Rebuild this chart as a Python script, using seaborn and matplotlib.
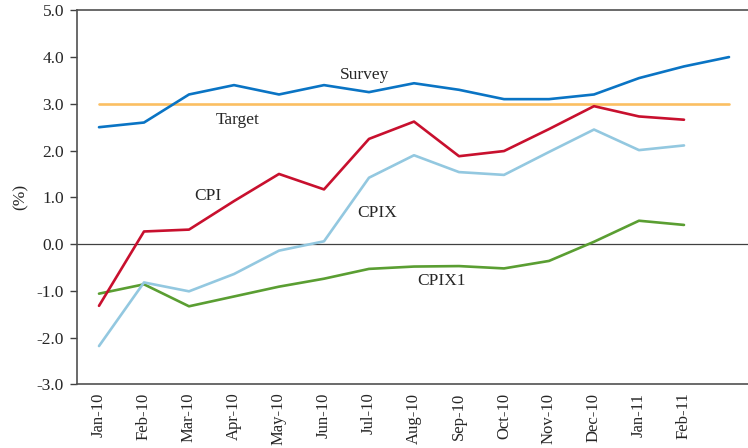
import pandas as pd
import matplotlib.pyplot as plt
import seaborn as sns

# 月份（最后一个 Mar-11 不显示标签）
months = ['Jan-10', 'Feb-10', 'Mar-10', 'Apr-10', 'May-10', 'Jun-10', 'Jul-10',
          'Aug-10', 'Sep-10', 'Oct-10', 'Nov-10', 'Dec-10', 'Jan-11', 'Feb-11', 'Mar-11']
tick_labels = months[:-1] + ['']

survey = [2.50, 2.60, 3.20, 3.40, 3.20, 3.40, 3.25, 3.44, 3.30, 3.10, 3.10, 3.20, 3.55, 3.80, 4.00]
target = [3.0] * 15
cpi = [-1.32, 0.27, 0.31, 0.92, 1.50, 1.17, 2.25, 2.62, 1.88, 1.99, 2.46, 2.95, 2.73, 2.66]
cpix = [-2.18, -0.82, -1.01, -0.64, -0.14, 0.06, 1.42, 1.90, 1.54, 1.48, 1.97, 2.45, 2.01, 2.11]
cpix1 = [-1.06, -0.86, -1.33, -1.12, -0.91, -0.74, -0.53, -0.48, -0.47, -0.52, -0.36, 0.05, 0.50, 0.41]

colors = {'Survey': '#0a74c4', 'Target': '#fbbf62', 'CPI': '#c8102e',
          'CPIX': '#93c8e0', 'CPIX1': '#5a9e32'}

frames = []
for name, vals in [('Target', target), ('CPIX1', cpix1), ('CPIX', cpix),
                   ('CPI', cpi), ('Survey', survey)]:
    frames.append(pd.DataFrame({'pos': range(len(vals)), 'value': vals, 'series': name}))
df = pd.concat(frames)

sns.set_style('white')
plt.rcParams['font.family'] = ['Liberation Serif', 'DejaVu Serif']
plt.rcParams['axes.unicode_minus'] = False
fs = 12.5

fig = plt.figure(figsize=(7.48, 4.48), dpi=100)
ax = fig.add_axes([76.5 / 748, 0.142, 675 / 748, 0.835])

sns.lineplot(data=df, x='pos', y='value', hue='series', palette=colors,
             linewidth=1.9, legend=False, ax=ax)

ax.axhline(0, color='#404040', linewidth=0.9, zorder=0)

ax.set_xlim(-0.5, 14.5)
ax.set_ylim(-3.0, 5.0)
ax.set_yticks([-3, -2, -1, 0, 1, 2, 3, 4, 5])
ax.set_yticklabels([f'{v:.1f}' for v in [-3, -2, -1, 0, 1, 2, 3, 4, 5]], fontsize=fs)

ax.set_xticks(range(15))
ax.set_xticklabels(tick_labels, rotation=90, fontsize=12)
ax.set_xticks([i - 0.5 for i in range(15)], minor=True)
ax.tick_params(axis='x', which='major', length=0, pad=6)
ax.tick_params(axis='x', which='minor', length=5, width=1, color='#404040', direction='out')
ax.tick_params(axis='y', length=5, width=1, color='#404040', direction='out', left=True, pad=4)

ax.set_xlabel('')
ax.set_ylabel('(%)', fontsize=fs, labelpad=6)

for s in ['left', 'bottom', 'top']:
    ax.spines[s].set_color('#505050')
    ax.spines[s].set_linewidth(1.2)
ax.spines['right'].set_visible(False)

ax.text(5.91, 3.61, 'Survey', ha='center', va='center', fontsize=fs)
ax.text(3.07, 2.65, 'Target', ha='center', va='center', fontsize=fs)
ax.text(2.42, 1.03, 'CPI', ha='center', va='center', fontsize=fs)
ax.text(6.18, 0.66, 'CPIX', ha='center', va='center', fontsize=fs)
ax.text(7.62, -0.79, 'CPIX1', ha='center', va='center', fontsize=fs)

fig.savefig('out.png', dpi=100)
